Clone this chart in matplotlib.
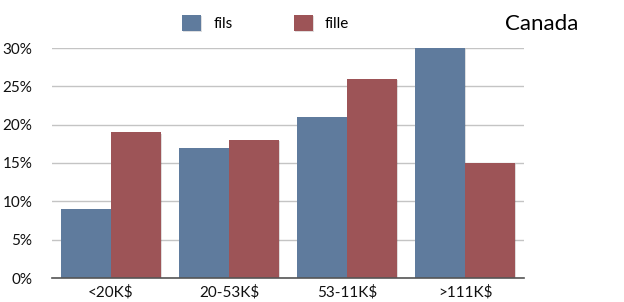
import matplotlib.pyplot as plt
import matplotlib.patheffects as pe
import numpy as np

plt.rcParams['font.family'] = ['Lato', 'DejaVu Sans']

categories = ["<20K$", "20-53K$", "53-11K$", ">111K$"]
fils = [9, 17, 21, 30]
fille = [19, 18, 26, 15]
yticks = [0, 5, 10, 15, 20, 25, 30]

blue = "#5f7b9d"
red = "#9d5457"

fig = plt.figure(figsize=(6.24, 3.02), dpi=100)
ax = fig.add_axes([52 / 624, 1 - 278 / 302, 472 / 624, 230 / 302])

x = np.arange(len(categories))
w = 50 / 118
shadow = [pe.SimplePatchShadow(offset=(1, -1), alpha=0.15), pe.Normal()]
b1 = ax.bar(x - w / 2, fils, w, color=blue, label="fils", zorder=3)
b2 = ax.bar(x + w / 2, fille, w, color=red, label="fille", zorder=3)
for b in list(b1) + list(b2):
    b.set_path_effects(shadow)

ax.set_xlim(-0.5, len(categories) - 0.5)
ax.set_ylim(0, 30)
ax.set_yticks(yticks)
ax.set_yticklabels([f"{t}%" for t in yticks])
ax.set_xticks(x)
ax.set_xticklabels(categories)
ax.yaxis.grid(True, color="#c4c4c4", linewidth=1, zorder=0)
ax.tick_params(length=0, labelsize=11, colors="#111111")
ax.tick_params(axis="y", pad=14)
ax.tick_params(axis="x", pad=5)
for s in ["top", "right", "left"]:
    ax.spines[s].set_visible(False)
ax.spines["bottom"].set_color("#555555")
ax.spines["bottom"].set_linewidth(1.2)
ax.spines["bottom"].set_zorder(4)

fig.legend(handles=[b1, b2], labels=["fils", "fille"], loc="center left",
           bbox_to_anchor=(182 / 624, 1 - 23 / 302), ncol=2, frameon=False,
           fontsize=11, handlelength=1.25, handleheight=1.25, columnspacing=4.0,
           handletextpad=0.8, borderpad=0, borderaxespad=0)

fig.text(542 / 624, 1 - 24 / 302, "Canada", fontsize=16, ha="center", va="center")

fig.savefig("out.png", dpi=100)
